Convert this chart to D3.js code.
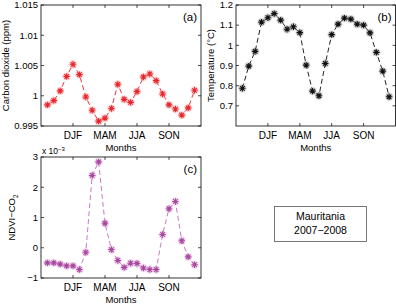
<!DOCTYPE html>
<html>
<head>
<meta charset="utf-8">
<script src="https://cdn.jsdelivr.net/npm/d3@7"></script>
<style>
  body { margin: 0; background: #fff; }
  svg { display: block; font-family: "Liberation Sans", Arial, sans-serif; }
</style>
</head>
<body>
<div id="chart"></div>
<script>
// month index 1..24 (two seasonal cycles, 2007-2008)
const months = d3.range(1, 25);
const seasonTicks = [5, 10, 15, 20];
const seasonLabels = ["DJF", "MAM", "JJA", "SON"];

const co2 = [0.9985, 0.9992, 1.0008, 1.0032, 1.0052, 1.0035, 0.9998, 0.9976, 0.9958, 0.9963, 0.9979, 1.0019,
             0.9994, 0.9989, 1.0007, 1.0031, 1.0036, 1.0025, 1.0003, 0.9985, 0.9978, 0.9968, 0.9980, 1.0009];
const temperature = [0.787, 0.897, 0.970, 1.115, 1.137, 1.157, 1.125, 1.080, 1.092, 1.063, 0.902, 0.773,
                     0.750, 0.910, 1.053, 1.105, 1.135, 1.130, 1.105, 1.100, 1.062, 0.965, 0.872, 0.745];
// NDVI-CO2 in units of 1e-3
const ndviCo2 = [-0.50, -0.50, -0.54, -0.60, -0.60, -0.72, -0.15, 2.39, 2.84, 0.81, -0.06, -0.42,
                 -0.65, -0.51, -0.52, -0.67, -0.72, -0.72, 0.44, 1.29, 1.53, 0.23, -0.30, -0.56];

const co2Ticks = [0.995, 1, 1.005, 1.01, 1.015];
const tempTicks = [0.7, 0.8, 0.9, 1, 1.1, 1.2];
const ndviTicks = [-1, 0, 1, 2, 3];

const svg = d3.select("#chart")
    .append("svg")
    .attr("width", 396)
    .attr("height", 306);

const fontSize = 9.5;

function drawPanel(p) {
    const g = svg.append("g")
        .attr("transform", "translate(" + p.left + "," + p.top + ")");

    const x = d3.scaleLinear().domain([0, 25]).range([0, p.width]);
    const y = d3.scaleLinear().domain(p.domain).range([p.height, 0]);

    // box
    g.append("rect")
        .attr("width", p.width).attr("height", p.height)
        .attr("fill", "none").attr("stroke", "#000").attr("stroke-width", 0.8);

    // inward ticks on all four sides (matlab box style)
    const tl = 3;
    seasonTicks.forEach(t => {
        g.append("line").attr("x1", x(t)).attr("x2", x(t)).attr("y1", p.height).attr("y2", p.height - tl)
            .attr("stroke", "#000").attr("stroke-width", 0.7);
        g.append("line").attr("x1", x(t)).attr("x2", x(t)).attr("y1", 0).attr("y2", tl)
            .attr("stroke", "#000").attr("stroke-width", 0.7);
    });
    p.ticks.forEach(t => {
        g.append("line").attr("x1", 0).attr("x2", tl).attr("y1", y(t)).attr("y2", y(t))
            .attr("stroke", "#000").attr("stroke-width", 0.7);
        g.append("line").attr("x1", p.width).attr("x2", p.width - tl).attr("y1", y(t)).attr("y2", y(t))
            .attr("stroke", "#000").attr("stroke-width", 0.7);
    });

    // tick labels
    g.selectAll(".xl")
        .data(seasonTicks)
        .join("text")
        .attr("x", d => x(d))
        .attr("y", p.height + 13)
        .attr("text-anchor", "middle")
        .attr("font-size", 10)
        .text((d, i) => seasonLabels[i]);

    g.selectAll(".yl")
        .data(p.ticks)
        .join("text")
        .attr("x", -3)
        .attr("y", d => y(d))
        .attr("dy", "0.35em")
        .attr("text-anchor", "end")
        .attr("font-size", fontSize)
        .text(d => p.fmt(d));

    // axis titles
    g.append("text")
        .attr("x", p.width / 2)
        .attr("y", p.height + 24.5)
        .attr("text-anchor", "middle")
        .attr("font-size", fontSize)
        .text("Months");

    const yt = g.append("text")
        .attr("transform", "translate(" + p.ylabelX + "," + (p.height / 2) + ") rotate(-90)")
        .attr("text-anchor", "middle")
        .attr("font-size", fontSize);
    p.ylabel(yt);

    g.append("text")
        .attr("x", p.width - 4)
        .attr("y", 16)
        .attr("text-anchor", "end")
        .attr("font-size", 11.5)
        .text(p.tag);

    // dashed line
    const line = d3.line()
        .x((d, i) => x(months[i]))
        .y(d => y(d));

    g.append("path")
        .datum(p.values)
        .attr("d", line)
        .attr("fill", "none")
        .attr("stroke", p.lineColor)
        .attr("stroke-width", 1)
        .attr("stroke-dasharray", "5,3");

    // asterisk markers
    const r = 3.2;
    const star = "M" + (-r) + ",0L" + r + ",0M0," + (-r) + "L0," + r +
        "M" + (-r * 0.7) + "," + (-r * 0.7) + "L" + (r * 0.7) + "," + (r * 0.7) +
        "M" + (-r * 0.7) + "," + (r * 0.7) + "L" + (r * 0.7) + "," + (-r * 0.7);

    const m = g.selectAll(".mk")
        .data(p.values)
        .join("g")
        .attr("transform", (d, i) => "translate(" + x(months[i]) + "," + y(d) + ")");
    m.append("circle")
        .attr("r", 4.2)
        .attr("fill", p.haloColor)
        .attr("opacity", 0.4);
    m.append("path")
        .attr("d", star)
        .attr("stroke", p.markColor)
        .attr("stroke-width", 1.1)
        .attr("fill", "none");
}

drawPanel({
    left: 41, top: 5, width: 160, height: 121,
    domain: [0.995, 1.015], ticks: co2Ticks,
    fmt: d => d === 1 ? "1" : d3.format("")(d),
    values: co2, tag: "(a)", ylabelX: -32,
    ylabel: t => t.text("Carbon dioxide (ppm)"),
    lineColor: "#e8343a", markColor: "#e8262b", haloColor: "#f4a0a4"
});

drawPanel({
    left: 236, top: 5, width: 159.5, height: 121,
    domain: [0.6, 1.2], ticks: tempTicks,
    fmt: d => d === 1 ? "1" : d3.format("")(d),
    values: temperature, tag: "(b)", ylabelX: -22,
    ylabel: t => t.text("Temperature (°C)"),
    lineColor: "#222", markColor: "#111", haloColor: "#999"
});

drawPanel({
    left: 41, top: 157, width: 160, height: 121,
    domain: [-1, 3], ticks: ndviTicks,
    fmt: d => d === -1 ? "\u22121" : String(d),
    values: ndviCo2, tag: "(c)", ylabelX: -26,
    ylabel: t => {
        t.append("tspan").text("NDVI\u2212CO");
        t.append("tspan").attr("font-size", 6.5).attr("dy", 2.5).text("2");
    },
    lineColor: "#c77cc2", markColor: "#a9479f", haloColor: "#dba9d6"
});

// scale factor for panel (c)
const sf = svg.append("text")
    .attr("x", 42)
    .attr("y", 154)
    .attr("font-size", 8.5);
sf.append("tspan").text("x 10");
sf.append("tspan").attr("font-size", 6).attr("dy", -3).text("\u22123");

// location box
svg.append("rect")
    .attr("x", 274.5).attr("y", 206.5)
    .attr("width", 92).attr("height", 35)
    .attr("fill", "#fff").attr("stroke", "#555").attr("stroke-width", 0.8);
svg.append("text")
    .attr("x", 320.5).attr("y", 219.5)
    .attr("text-anchor", "middle")
    .attr("font-size", 10.5)
    .text("Mauritania");
svg.append("text")
    .attr("x", 320.5).attr("y", 234)
    .attr("text-anchor", "middle")
    .attr("font-size", 10.5)
    .text("2007\u22122008");
</script>
</body>
</html>
